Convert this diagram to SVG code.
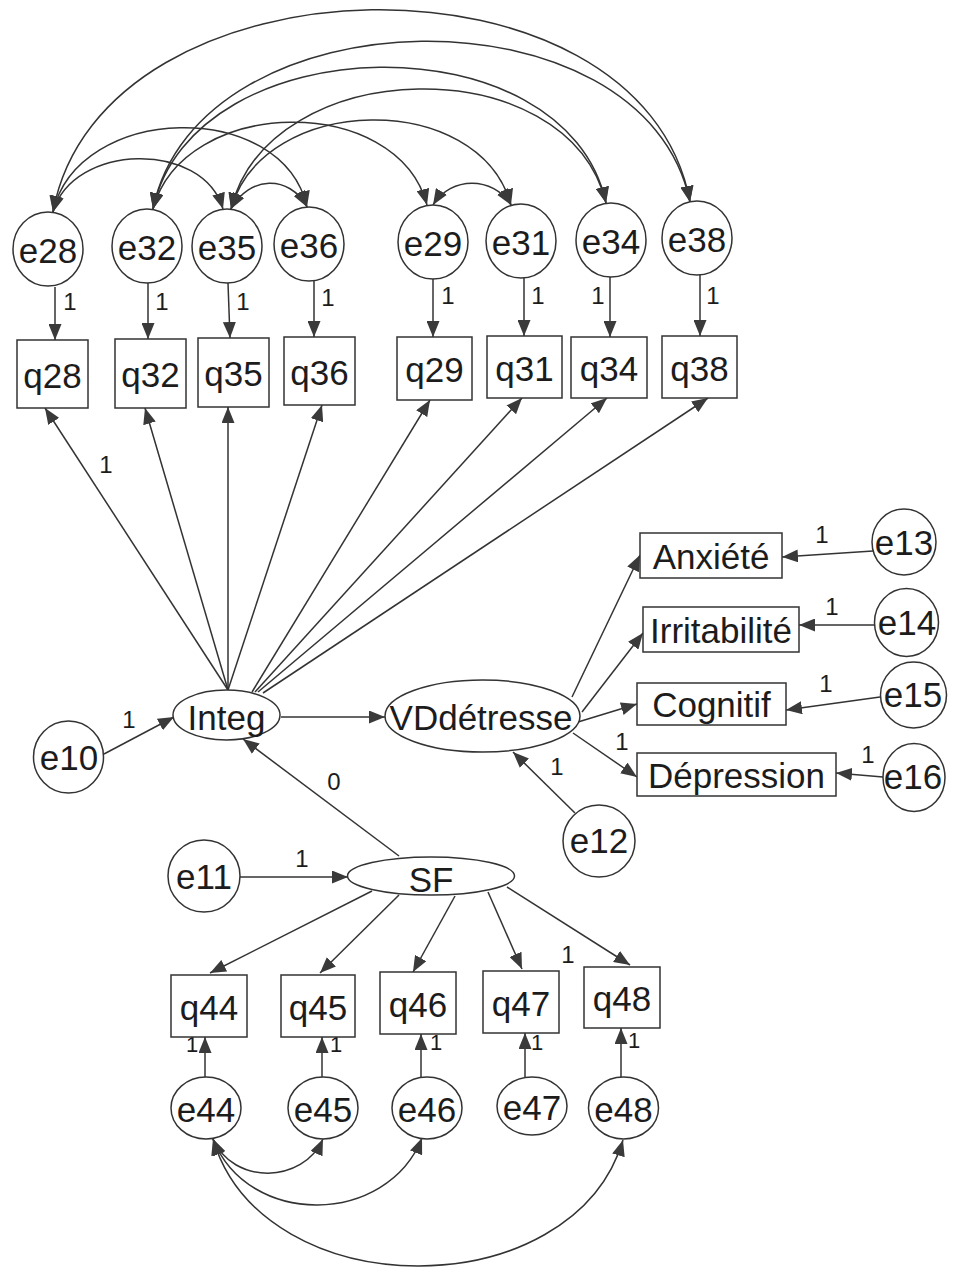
<svg xmlns="http://www.w3.org/2000/svg" width="957" height="1267" viewBox="0 0 957 1267">
<defs>
<marker id="ah" markerUnits="userSpaceOnUse" markerWidth="16" markerHeight="13" refX="16" refY="6.5" orient="auto-start-reverse">
<path d="M0,0 L16,6.5 L0,13 Z" fill="#3a3a3a"/>
</marker>
<style>
.n{fill:#fff;stroke:#333;stroke-width:1.5}
.t{font-family:"Liberation Sans",Arial,sans-serif;font-size:35px;fill:#1c1c1c;text-anchor:middle}
.l{font-family:"Liberation Sans",Arial,sans-serif;font-size:24px;fill:#1c1c1c;text-anchor:middle}
.ls{font-family:"Liberation Sans",Arial,sans-serif;font-size:22px;fill:#1c1c1c;text-anchor:middle}
.c{fill:none;stroke:#333;stroke-width:1.5;marker-end:url(#ah)}
.cc{fill:none;stroke:#333;stroke-width:1.5;marker-start:url(#ah);marker-end:url(#ah)}
</style>
</defs>
<rect width="957" height="1267" fill="#fff"/>

<g id="connectors">
<!-- covariances top -->
<path class="cc" d="M53,212 C73,143 203,140 223,209"/>
<path class="cc" d="M53,212 C78,103 282,98 307,207"/>
<path class="cc" d="M53,212 C101,-51 642,-61 690,202"/>
<path class="cc" d="M153,209 C183,96 397,92 427,205"/>
<path class="cc" d="M153,209 C193,24 566,18 606,203"/>
<path class="cc" d="M153,209 C198,-10 645,-17 690,202"/>
<path class="cc" d="M231,209 C249,176 289,174 307,207"/>
<path class="cc" d="M231,209 C263,93 479,89 511,205"/>
<path class="cc" d="M231,209 C269,53 568,47 606,203"/>
<path class="cc" d="M433,205 C451,176 493,176 511,205"/>
<!-- e -> q top -->
<line class="c" x1="55" y1="287" x2="55" y2="340"/>
<line class="c" x1="148" y1="283" x2="148" y2="339"/>
<line class="c" x1="228" y1="283" x2="230" y2="338"/>
<line class="c" x1="314" y1="281" x2="314" y2="337"/>
<line class="c" x1="433" y1="279" x2="433" y2="337"/>
<line class="c" x1="524" y1="278" x2="524" y2="336"/>
<line class="c" x1="610" y1="277" x2="610" y2="337"/>
<line class="c" x1="700" y1="275" x2="700" y2="336"/>
<!-- Integ -> q -->
<line class="c" x1="228" y1="690" x2="45" y2="408"/>
<line class="c" x1="228" y1="690" x2="145" y2="408"/>
<line class="c" x1="228" y1="690" x2="228" y2="407"/>
<line class="c" x1="228" y1="690" x2="322" y2="405"/>
<line class="c" x1="252" y1="692" x2="430" y2="400"/>
<line class="c" x1="255" y1="692" x2="522" y2="398"/>
<line class="c" x1="258" y1="692" x2="607" y2="398"/>
<line class="c" x1="263" y1="693" x2="708" y2="398"/>
<!-- structural -->
<line class="c" x1="104" y1="754" x2="174" y2="717"/>
<line class="c" x1="281" y1="717" x2="385" y2="717"/>
<line class="c" x1="399" y1="856" x2="243" y2="739"/>
<line class="c" x1="240" y1="877" x2="348" y2="877"/>
<line class="c" x1="575" y1="813" x2="513" y2="752"/>
<!-- VD -> boxes -->
<line class="c" x1="572" y1="697" x2="640" y2="555"/>
<line class="c" x1="582" y1="712" x2="643" y2="633"/>
<line class="c" x1="578" y1="722" x2="637" y2="704"/>
<line class="c" x1="573" y1="733" x2="637" y2="777"/>
<!-- e13-16 -> boxes -->
<line class="c" x1="873" y1="551" x2="782" y2="557"/>
<line class="c" x1="875" y1="625" x2="799" y2="625"/>
<line class="c" x1="880" y1="697" x2="786" y2="710"/>
<line class="c" x1="883" y1="777" x2="836" y2="773"/>
<!-- SF -> q -->
<line class="c" x1="372" y1="891" x2="210" y2="973"/>
<line class="c" x1="399" y1="895" x2="320" y2="973"/>
<line class="c" x1="455" y1="896" x2="413" y2="972"/>
<line class="c" x1="488" y1="892" x2="522" y2="969"/>
<line class="c" x1="507" y1="887" x2="630" y2="965"/>
<!-- e -> q bottom -->
<line class="c" x1="205" y1="1077" x2="205" y2="1037"/>
<line class="c" x1="322" y1="1077" x2="322" y2="1037"/>
<line class="c" x1="421" y1="1077" x2="421" y2="1034"/>
<line class="c" x1="525" y1="1077" x2="525" y2="1033"/>
<line class="c" x1="621" y1="1077" x2="621" y2="1028"/>
<!-- covariances bottom -->
<path class="cc" d="M213,1139 C233,1185 303,1184 323,1139"/>
<path class="cc" d="M213,1139 C248,1228 387,1226 422,1138"/>
<path class="cc" d="M213,1139 C263,1308 573,1308 623,1140"/>
<!-- labels -->
<text class="l" x="70" y="310">1</text>
<text class="l" x="162" y="310">1</text>
<text class="l" x="243" y="310">1</text>
<text class="l" x="328" y="306">1</text>
<text class="l" x="448" y="304">1</text>
<text class="l" x="538" y="304">1</text>
<text class="l" x="598" y="304">1</text>
<text class="l" x="713" y="304">1</text>
<text class="l" x="106" y="473">1</text>
<text class="l" x="129" y="728">1</text>
<text class="l" x="334" y="790">0</text>
<text class="l" x="302" y="867">1</text>
<text class="l" x="557" y="775">1</text>
<text class="l" x="622" y="750">1</text>
<text class="l" x="822" y="543">1</text>
<text class="l" x="832" y="615">1</text>
<text class="l" x="826" y="692">1</text>
<text class="l" x="868" y="763">1</text>
<text class="l" x="568" y="963">1</text>
<text class="ls" x="192" y="1052">1</text>
<text class="ls" x="336" y="1052">1</text>
<text class="ls" x="436" y="1050">1</text>
<text class="ls" x="537" y="1050">1</text>
<text class="ls" x="634" y="1048">1</text>
</g>

<g id="e28"><ellipse class="n" cx="48" cy="249" rx="35" ry="37"/><text class="t" x="48" y="263">e28</text></g>
<g id="e32"><ellipse class="n" cx="147" cy="246" rx="35" ry="37"/><text class="t" x="147" y="260">e32</text></g>
<g id="e35"><ellipse class="n" cx="227" cy="246" rx="35" ry="37"/><text class="t" x="227" y="260">e35</text></g>
<g id="e36"><ellipse class="n" cx="309" cy="244" rx="35" ry="37"/><text class="t" x="309" y="258">e36</text></g>
<g id="e29"><ellipse class="n" cx="433" cy="242" rx="35" ry="37"/><text class="t" x="433" y="256">e29</text></g>
<g id="e31"><ellipse class="n" cx="521" cy="241" rx="35" ry="37"/><text class="t" x="521" y="255">e31</text></g>
<g id="e34"><ellipse class="n" cx="611" cy="240" rx="35" ry="37"/><text class="t" x="611" y="254">e34</text></g>
<g id="e38"><ellipse class="n" cx="697" cy="238" rx="35" ry="37"/><text class="t" x="697" y="252">e38</text></g>

<g id="q28"><rect class="n" x="17" y="340" width="71" height="68"/><text class="t" x="52.5" y="388">q28</text></g>
<g id="q32"><rect class="n" x="115" y="339" width="71" height="69"/><text class="t" x="150.5" y="387">q32</text></g>
<g id="q35"><rect class="n" x="198" y="338" width="71" height="69"/><text class="t" x="233.5" y="386">q35</text></g>
<g id="q36"><rect class="n" x="284" y="337" width="71" height="68"/><text class="t" x="319.5" y="385">q36</text></g>
<g id="q29"><rect class="n" x="397" y="337" width="75" height="63"/><text class="t" x="434.5" y="382">q29</text></g>
<g id="q31"><rect class="n" x="487" y="336" width="75" height="62"/><text class="t" x="524.5" y="381">q31</text></g>
<g id="q34"><rect class="n" x="571" y="337" width="76" height="61"/><text class="t" x="609" y="381">q34</text></g>
<g id="q38"><rect class="n" x="662" y="336" width="75" height="62"/><text class="t" x="699.5" y="381">q38</text></g>

<g id="Integ"><ellipse class="n" cx="226.5" cy="715" rx="53.5" ry="25"/><text class="t" x="226.5" y="730">Integ</text></g>
<g id="VDdetresse"><ellipse class="n" cx="482.5" cy="716" rx="97.5" ry="36"/><text class="t" x="481" y="730">VDdétresse</text></g>
<g id="SF"><ellipse class="n" cx="431" cy="876" rx="83.5" ry="19"/><text class="t" x="431" y="892">SF</text></g>
<g id="e10"><ellipse class="n" cx="68.5" cy="757" rx="35" ry="36"/><text class="t" x="69" y="770">e10</text></g>
<g id="e11"><ellipse class="n" cx="204" cy="876" rx="36" ry="36"/><text class="t" x="204" y="889">e11</text></g>
<g id="e12"><ellipse class="n" cx="599" cy="841" rx="36" ry="36"/><text class="t" x="599" y="853">e12</text></g>

<g id="Anxiete"><rect class="n" x="640" y="533" width="142" height="45"/><text class="t" x="711" y="569">Anxiété</text></g>
<g id="Irritabilite"><rect class="n" x="643" y="607" width="156" height="45"/><text class="t" x="721" y="643">Irritabilité</text></g>
<g id="Cognitif"><rect class="n" x="637" y="683" width="149" height="42"/><text class="t" x="711.5" y="717">Cognitif</text></g>
<g id="Depression"><rect class="n" x="637" y="753" width="199" height="43"/><text class="t" x="736.5" y="788">Dépression</text></g>

<g id="e13"><ellipse class="n" cx="904" cy="542" rx="32" ry="33"/><text class="t" x="904" y="555">e13</text></g>
<g id="e14"><ellipse class="n" cx="906.5" cy="622.5" rx="32" ry="34"/><text class="t" x="907" y="635">e14</text></g>
<g id="e15"><ellipse class="n" cx="913.5" cy="695" rx="33" ry="33"/><text class="t" x="913" y="707">e15</text></g>
<g id="e16"><ellipse class="n" cx="914" cy="777.5" rx="31" ry="34"/><text class="t" x="913" y="789">e16</text></g>

<g id="q44"><rect class="n" x="171" y="975" width="76" height="62"/><text class="t" x="209" y="1020">q44</text></g>
<g id="q45"><rect class="n" x="281" y="975" width="74" height="62"/><text class="t" x="318" y="1020">q45</text></g>
<g id="q46"><rect class="n" x="380" y="972" width="76" height="62"/><text class="t" x="418" y="1017">q46</text></g>
<g id="q47"><rect class="n" x="483" y="971" width="76" height="62"/><text class="t" x="521" y="1016">q47</text></g>
<g id="q48"><rect class="n" x="584" y="967" width="76" height="61"/><text class="t" x="622" y="1011">q48</text></g>

<g id="e44"><ellipse class="n" cx="206" cy="1108" rx="35" ry="31"/><text class="t" x="206" y="1122">e44</text></g>
<g id="e45"><ellipse class="n" cx="323" cy="1108" rx="35" ry="31"/><text class="t" x="323" y="1122">e45</text></g>
<g id="e46"><ellipse class="n" cx="427" cy="1108" rx="35" ry="31"/><text class="t" x="427" y="1122">e46</text></g>
<g id="e47"><ellipse class="n" cx="532" cy="1106" rx="35" ry="29"/><text class="t" x="532" y="1120">e47</text></g>
<g id="e48"><ellipse class="n" cx="623.5" cy="1108" rx="35" ry="31"/><text class="t" x="623.5" y="1122">e48</text></g>
</svg>
